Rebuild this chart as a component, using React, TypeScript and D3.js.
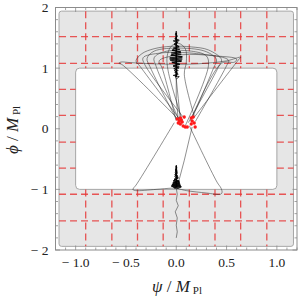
import React from "react";
import * as d3 from "d3";

type P = [number, number];

// ---- axis ticks ----
const xMajor = [-1, -0.5, 0, 0.5, 1];
const xMajorLabels = ["\u2212 1.0", "\u2212 0.5", "0.0", "0.5", "1.0"];
const xMinor = [-1.2, -1.1, -0.9, -0.8, -0.7, -0.6, -0.4, -0.3, -0.2, -0.1, 0.1, 0.2, 0.3, 0.4, 0.6, 0.7, 0.8, 0.9, 1.1, 1.2];
const yMajor = [-2, -1, 0, 1, 2];
const yMajorLabels = ["\u2212 2", "\u2212 1", "0", "1", "2"];
const yMinor = [-1.8, -1.6, -1.4, -1.2, -0.8, -0.6, -0.4, -0.2, 0.2, 0.4, 0.6, 0.8, 1.2, 1.4, 1.6, 1.8];

// ---- region ----
const outerBox = { x0: -1.165, x1: 1.165, y0: -1.94, y1: 1.94 };
const innerBox = { x0: -1.0, x1: 1.0, y0: -1.0, y1: 1.0 };

// ---- red dashed grid ----
const vLinesX = [-0.9, -0.64, -0.385, -0.13, 0.13, 0.385, 0.64, 0.9];
const hLinesFull = [-1.52, -1.08, 1.08, 1.52];
const hLinesSide = [-0.65, -0.22, 0.22, 0.65];

// ---- trajectory pieces ----
const tailBottom: P[] = [[0.0, -1.8], [0.01, -1.7], [0.0, -1.59], [0.01, -1.47], [-0.01, -1.37], [0.02, -1.27], [0.0, -1.18], [0.01, -1.08], [0.0, -0.98]];
const spikeBottom: P[] = [[0, -0.98], [-0.045, -0.95], [0.04, -0.93], [-0.04, -0.92], [0.035, -0.9], [-0.03, -0.88], [0.03, -0.86], [-0.02, -0.84], [0.02, -0.8], [-0.015, -0.76], [0.012, -0.72], [-0.008, -0.68], [0.005, -0.64], [0, -0.6], [0.004, -0.66], [-0.01, -0.72], [0.015, -0.78], [-0.02, -0.83], [0.03, -0.87], [-0.035, -0.9], [0.045, -0.94], [-0.03, -0.96], [0.02, -0.98]];
const spikeBottom2: P[] = [[0.01, -0.99], [0.05, -0.96], [-0.05, -0.945], [0.04, -0.915], [-0.035, -0.895], [0.03, -0.875], [-0.025, -0.855], [0.02, -0.82], [-0.015, -0.79], [0.01, -0.74], [-0.006, -0.69], [0.003, -0.63], [-0.003, -0.62], [0.008, -0.7], [-0.012, -0.75], [0.018, -0.81], [-0.03, -0.86], [0.035, -0.89], [-0.045, -0.93], [0.05, -0.955], [-0.02, -0.985]];
const bottomLeft: P[] = [[-0.02, 0.1], [-0.4, -0.93], [-0.425, -0.98], [-0.43, -1.005], [-0.405, -1.02], [-0.2, -1.0], [-0.05, -0.98], [0.0, -0.98]];
const bottomRight: P[] = [[0.0, -0.98], [0.1, -1.02], [0.3, -1.06], [0.44, -1.08], [0.455, -1.05], [0.445, -0.98], [0.405, -0.88], [0.13, 0.05]];
const steepLine: P[] = [[0.158, 0.03], [0.08, -0.52], [0.01, -0.96]];

const excursionA: P[] = [[0.03, 0.14], [-0.54, 1.06], [-0.57, 1.08], [-0.55, 1.1], [-0.45, 1.09], [-0.2, 1.07], [0.2, 1.07], [0.5, 1.12], [0.64, 1.18], [0.62, 1.14], [0.17, 0.17]];
const excursionB: P[] = [[0.05, 0.12], [-0.36, 1.03], [-0.4, 1.12], [-0.34, 1.24], [-0.22, 1.32], [-0.05, 1.36], [0.15, 1.35], [0.32, 1.3], [0.45, 1.14], [0.42, 1.02], [0.12, 0.1]];
const excursionC: P[] = [[0.0, 0.16], [-0.26, 1.02], [-0.29, 1.16], [-0.22, 1.28], [0.05, 1.33], [0.3, 1.27], [0.4, 1.14], [0.37, 1.0], [0.16, 0.18]];
const excursionD: P[] = [[0.04, 0.1], [-0.2, 1.03], [-0.22, 1.17], [-0.12, 1.27], [0.15, 1.28], [0.3, 1.2], [0.32, 1.04], [0.09, 0.05]];
const excursionE: P[] = [[0.06, 0.14], [-0.08, 0.95], [-0.09, 1.2], [-0.05, 1.36], [0.02, 1.41], [0.09, 1.32], [0.1, 1.1], [0.08, 0.9], [0.18, 0.2]];
const excursionF: P[] = [[0.0, 0.13], [-0.14, 1.0], [-0.17, 1.12], [0.05, 1.22], [0.4, 1.2], [0.6, 1.15], [0.58, 1.1], [0.45, 1.08], [0.14, 0.13]];
const excursionG: P[] = [[0.08, 0.17], [-0.31, 1.05], [-0.33, 1.17], [-0.15, 1.25], [0.2, 1.24], [0.52, 1.13], [0.5, 1.04], [0.19, 0.12]];

const spindleUp: P[] = [[0.0, 0.82], [0.03, 0.86], [-0.03, 0.88], [0.02, 0.9], [-0.015, 0.93], [0.02, 0.96], [-0.025, 0.99], [0.03, 1.02], [-0.03, 1.04], [0.035, 1.07], [-0.04, 1.09], [0.05, 1.11], [-0.06, 1.13], [0.06, 1.15], [-0.065, 1.17], [0.06, 1.19], [-0.055, 1.21], [0.05, 1.23], [-0.05, 1.25], [0.045, 1.27], [-0.04, 1.29], [0.035, 1.31], [-0.03, 1.33], [0.025, 1.36], [-0.02, 1.39], [0.015, 1.42], [-0.03, 1.45], [0.03, 1.46], [-0.012, 1.49], [0.01, 1.52], [-0.008, 1.55], [0.004, 1.58], [0.0, 1.61]];
const spindleDown: P[] = [[0.0, 1.61], [-0.006, 1.57], [0.01, 1.53], [-0.015, 1.48], [0.02, 1.44], [-0.02, 1.4], [0.03, 1.35], [-0.04, 1.3], [0.045, 1.26], [-0.05, 1.22], [0.06, 1.18], [-0.065, 1.15], [0.055, 1.12], [-0.045, 1.1], [0.035, 1.06], [-0.03, 1.03], [0.025, 1.0], [-0.02, 0.96], [0.015, 0.92], [-0.01, 0.88], [0.0, 0.82]];
const spindleStem: P[] = [[0.02, 0.15], [0.0, 0.5], [0.0, 0.82]];
const spindleReturn: P[] = [[0.0, 0.82], [0.02, 0.5], [0.04, 0.16]];

const redDots: P[] = [[0.01, 0.16], [0.03, 0.127], [0.05, 0.144], [0.02, 0.094], [0.04, 0.078], [0.059, 0.111], [0.069, 0.045], [0.089, 0.028], [0.04, 0.177], [0.079, 0.193], [0.109, 0.028], [0.149, 0.177], [0.158, 0.127], [0.149, 0.078], [0.178, 0.094], [0.188, 0.028], [0.168, 0.193]];

const W = 299, H = 300;
const x = d3.scaleLinear().domain([-1.2, 1.2]).range([55.5, 297]);
const y = d3.scaleLinear().domain([-2, 2]).range([250, 7.5]);

function rr(x0: number, y0: number, x1: number, y1: number, r: number) {
  const L = x(x0), R = x(x1), T = y(y1), B = y(y0);
  const p = d3.path();
  p.moveTo(L + r, T);
  p.lineTo(R - r, T);
  p.arcTo(R, T, R, T + r, r);
  p.lineTo(R, B - r);
  p.arcTo(R, B, R - r, B, r);
  p.lineTo(L + r, B);
  p.arcTo(L, B, L, B - r, r);
  p.lineTo(L, T + r);
  p.arcTo(L, T, L + r, T, r);
  p.closePath();
  return p.toString();
}

const smooth = d3.line<P>().x(d => x(d[0])).y(d => y(d[1])).curve(d3.curveCatmullRom.alpha(0.5));
const straight = d3.line<P>().x(d => x(d[0])).y(d => y(d[1]));

export default function App() {
  const regionPath = rr(outerBox.x0, outerBox.y0, outerBox.x1, outerBox.y1, 2.5) + " " + rr(innerBox.x0, innerBox.y0, innerBox.x1, innerBox.y1, 4);
  const redStyle = { stroke: "#e63a3a", strokeWidth: 1.3, strokeDasharray: "7,4", strokeOpacity: 0.85, fill: "none" } as const;
  const smoothPieces = [excursionA, excursionB, excursionC, excursionD, excursionE, excursionF, excursionG, bottomLeft, bottomRight];
  const straightPieces = [tailBottom, steepLine, spindleStem, spindleReturn];
  const L = x(-1.2), R = x(1.2), T = y(2), B = y(-2);
  const serif = "'Liberation Serif', 'DejaVu Serif', serif";
  return (
    <svg width={W} height={H} style={{ position: "absolute", left: 0, top: 0, background: "#fff" }}>
      <path d={regionPath} fill="#e6e6e6" fillRule="evenodd" stroke="#a6a6a6" strokeWidth={1} />
      {vLinesX.map((v, i) => (
        <g key={"v" + i}>
          <line x1={x(v)} x2={x(v)} y1={y(outerBox.y1)} y2={y(innerBox.y1)} style={redStyle} />
          <line x1={x(v)} x2={x(v)} y1={y(innerBox.y0)} y2={y(outerBox.y0)} style={redStyle} />
        </g>
      ))}
      {hLinesFull.map((h, i) => (
        <line key={"hf" + i} x1={x(outerBox.x0)} x2={x(outerBox.x1)} y1={y(h)} y2={y(h)} style={redStyle} />
      ))}
      {hLinesSide.map((h, i) => (
        <g key={"hs" + i}>
          <line x1={x(outerBox.x0)} x2={x(innerBox.x0)} y1={y(h)} y2={y(h)} style={redStyle} />
          <line x1={x(innerBox.x1)} x2={x(outerBox.x1)} y1={y(h)} y2={y(h)} style={redStyle} />
        </g>
      ))}
      <g fill="none" stroke="#2a2a2a" strokeOpacity={0.75} strokeWidth={0.7}>
        {smoothPieces.map((p, i) => <path key={"s" + i} d={smooth(p) || ""} />)}
        {straightPieces.map((p, i) => <path key={"t" + i} d={straight(p) || ""} />)}
      </g>
      <g fill="none" stroke="#000" strokeWidth={0.8}>
        <path d={straight(spindleUp) || ""} />
        <path d={straight(spindleDown) || ""} />
        <line x1={x(0)} x2={x(0)} y1={y(0.85)} y2={y(1.58)} strokeWidth={1.6} />
        <path d={straight(spikeBottom) || ""} />
        <path d={straight(spikeBottom2) || ""} />
        <line x1={x(0)} x2={x(0)} y1={y(-0.62)} y2={y(-0.97)} strokeWidth={1.4} />
      </g>
      <g fill="#ff1a1a">
        {redDots.map((d, i) => <circle key={"r" + i} cx={x(d[0])} cy={y(d[1])} r={1.7} />)}
      </g>
      <rect x={L} y={T} width={R - L} height={B - T} fill="none" stroke="#8c8c8c" strokeWidth={1} />
      <g stroke="#8c8c8c" strokeWidth={0.8}>
        {xMajor.map((v, i) => (
          <g key={"xm" + i}>
            <line x1={x(v)} x2={x(v)} y1={B} y2={B - 4.5} />
            <line x1={x(v)} x2={x(v)} y1={T} y2={T + 4.5} />
          </g>
        ))}
        {xMinor.map((v, i) => (
          <g key={"xn" + i}>
            <line x1={x(v)} x2={x(v)} y1={B} y2={B - 2.5} />
            <line x1={x(v)} x2={x(v)} y1={T} y2={T + 2.5} />
          </g>
        ))}
        {yMajor.map((v, i) => (
          <g key={"ym" + i}>
            <line x1={L} x2={L + 4.5} y1={y(v)} y2={y(v)} />
            <line x1={R} x2={R - 4.5} y1={y(v)} y2={y(v)} />
          </g>
        ))}
        {yMinor.map((v, i) => (
          <g key={"yn" + i}>
            <line x1={L} x2={L + 2.5} y1={y(v)} y2={y(v)} />
            <line x1={R} x2={R - 2.5} y1={y(v)} y2={y(v)} />
          </g>
        ))}
      </g>
      <g fontFamily={serif} fontSize={13.5} fill="#222">
        {xMajor.map((v, i) => (
          <text key={"xl" + i} x={x(v)} y={267} textAnchor="middle">{xMajorLabels[i]}</text>
        ))}
        {yMajor.map((v, i) => (
          <text key={"yl" + i} x={L - 7} y={y(v) + 4.5} textAnchor="end">{yMajorLabels[i]}</text>
        ))}
      </g>
      <g fontFamily={serif} fill="#222">
        <text x={177} y={292} textAnchor="middle" fontSize={17}>
          <tspan fontStyle="italic">{"\u03C8"}</tspan>
          <tspan>{" / "}</tspan>
          <tspan fontStyle="italic">M</tspan>
          <tspan fontSize={11} dy={2}>{" Pl"}</tspan>
        </text>
        <text transform={`translate(18,130) rotate(-90)`} textAnchor="middle" fontSize={17}>
          <tspan fontStyle="italic">{"\u03D5"}</tspan>
          <tspan>{" / "}</tspan>
          <tspan fontStyle="italic">M</tspan>
          <tspan fontSize={11} dy={2}>{" Pl"}</tspan>
        </text>
      </g>
    </svg>
  );
}
